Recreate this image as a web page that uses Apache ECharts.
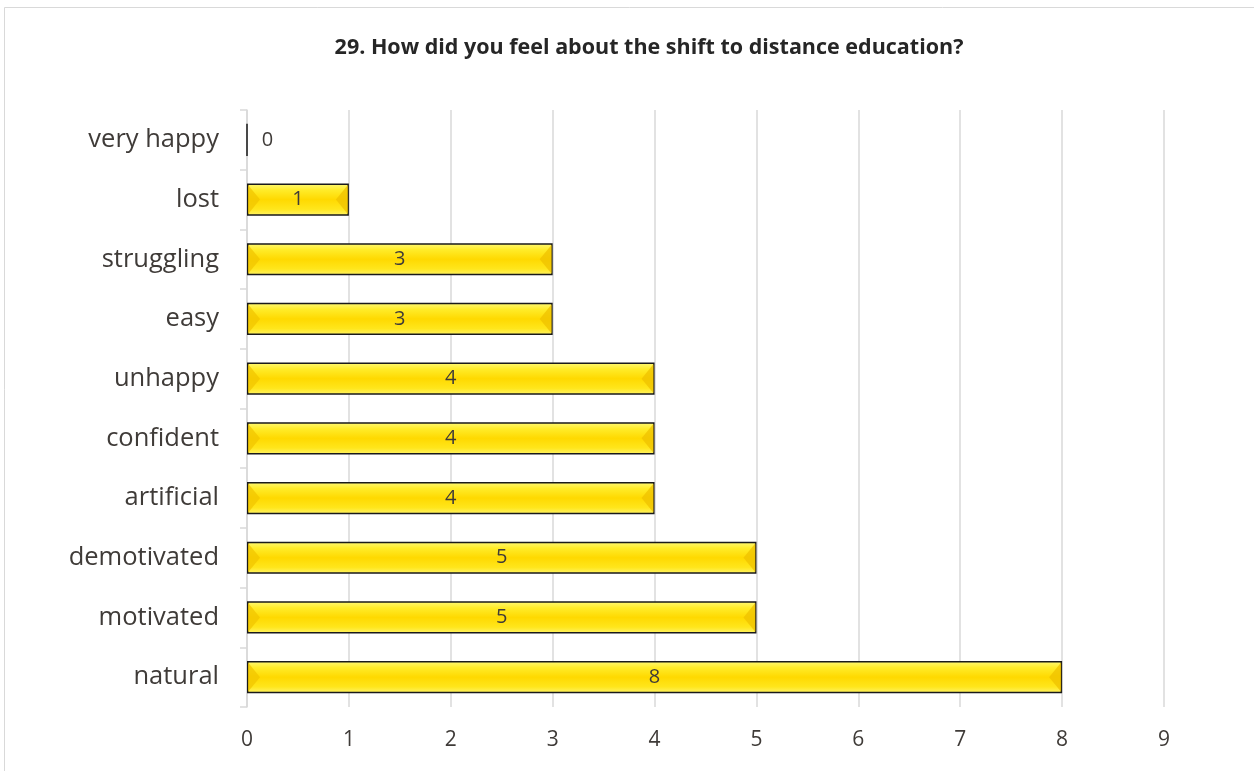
<!DOCTYPE html>
<html>
<head>
<meta charset="utf-8">
<script src="https://cdn.jsdelivr.net/npm/echarts@6/dist/echarts.min.js"></script>
<style>
  html, body { margin: 0; padding: 0; background: #fff; }
  #chart { width: 1254px; height: 771px; }
</style>
</head>
<body>
<div id="chart"></div>
<script>
// Survey answers, listed top to bottom
const categories = ['very happy', 'lost', 'struggling', 'easy', 'unhappy', 'confident', 'artificial', 'demotivated', 'motivated', 'natural'];
const counts = [0, 1, 3, 3, 4, 4, 4, 5, 5, 8];
const xTicks = [0, 1, 2, 3, 4, 5, 6, 7, 8, 9];

const FONT = '"Open Sans", sans-serif';
const TEXT = '#3f3b38';

// Bevelled gold fill: bright edges, deeper yellow through the middle
const goldFill = new echarts.graphic.LinearGradient(0, 0, 0, 1, [
  { offset: 0, color: '#fff97a' },
  { offset: 0.2, color: '#ffec2a' },
  { offset: 0.5, color: '#ffd900' },
  { offset: 0.8, color: '#ffe61c' },
  { offset: 1, color: '#fff46a' }
]);

// Darker gold wedges at both ends of every bar
function renderBevel(params, api) {
  const v = api.value(0);
  if (!v) return null;
  const idx = api.value(1);
  const start = api.coord([0, idx]);
  const end = api.coord([v, idx]);
  const h = api.size([0, 1])[1] * (1 - 0.46);
  const top = start[1] - h / 2 + 1.5;
  const bot = start[1] + h / 2 - 1.5;
  const mid = start[1];
  const w = 12;
  const x0 = start[0] + 1;
  const x1 = end[0] - 1;
  return {
    type: 'group',
    children: [
      {
        type: 'polygon',
        shape: { points: [[x0, top], [x0 + w, mid], [x0, bot]] },
        style: { fill: '#f2c600', opacity: 0.75 }
      },
      {
        type: 'polygon',
        shape: { points: [[x1, top], [x1 - w, mid], [x1, bot]] },
        style: { fill: '#efc200', opacity: 0.75 }
      }
    ]
  };
}

const chart = echarts.init(document.getElementById('chart'));
chart.setOption({
  animation: false,
  backgroundColor: '#fff',
  title: {
    text: '29. How did you feel about the shift to distance education?',
    left: 644,
    textAlign: 'center',
    top: 32,
    textStyle: { fontFamily: FONT, fontSize: 21.5, fontWeight: 'bold', color: '#262626' }
  },
  graphic: [{
    type: 'rect',
    shape: { x: 4.5, y: 7.5, width: 1260, height: 780 },
    style: { fill: 'none', stroke: '#d9d9d9', lineWidth: 1 },
    silent: true
  }],
  grid: { left: 247, right: 90, top: 110, bottom: 64 },
  xAxis: {
    type: 'value',
    min: xTicks[0],
    max: xTicks[xTicks.length - 1],
    interval: 1,
    axisLine: { show: false },
    axisTick: { show: false },
    axisLabel: { fontFamily: FONT, fontSize: 21, color: TEXT, margin: 23 },
    splitLine: { show: true, lineStyle: { color: '#d9d9d9', width: 1.5 } }
  },
  yAxis: {
    type: 'category',
    data: categories,
    inverse: true,
    axisLine: { show: true, lineStyle: { color: '#d9d9d9', width: 1.5 } },
    axisTick: { show: true, length: 7, lineStyle: { color: '#d9d9d9', width: 1.5 } },
    axisLabel: { fontFamily: FONT, fontSize: 25.5, color: TEXT, margin: 28, padding: [6, 0, 0, 0] }
  },
  series: [
    {
      type: 'bar',
      data: counts.map(v => ({
        value: v,
        label: v === 0 ? { position: 'right', distance: 14 } : { position: 'inside' }
      })),
      barCategoryGap: '46%',
      itemStyle: { color: goldFill, borderColor: '#1a1a1a', borderWidth: 1.5 },
      label: { show: true, fontFamily: FONT, fontSize: 20, color: TEXT, padding: [3, 0, 0, 0] },
      z: 2
    },
    {
      type: 'custom',
      renderItem: renderBevel,
      data: counts.map((v, i) => [v, i]),
      encode: { x: 0, y: 1 },
      silent: true,
      z: 3
    }
  ]
});
</script>
</body>
</html>
